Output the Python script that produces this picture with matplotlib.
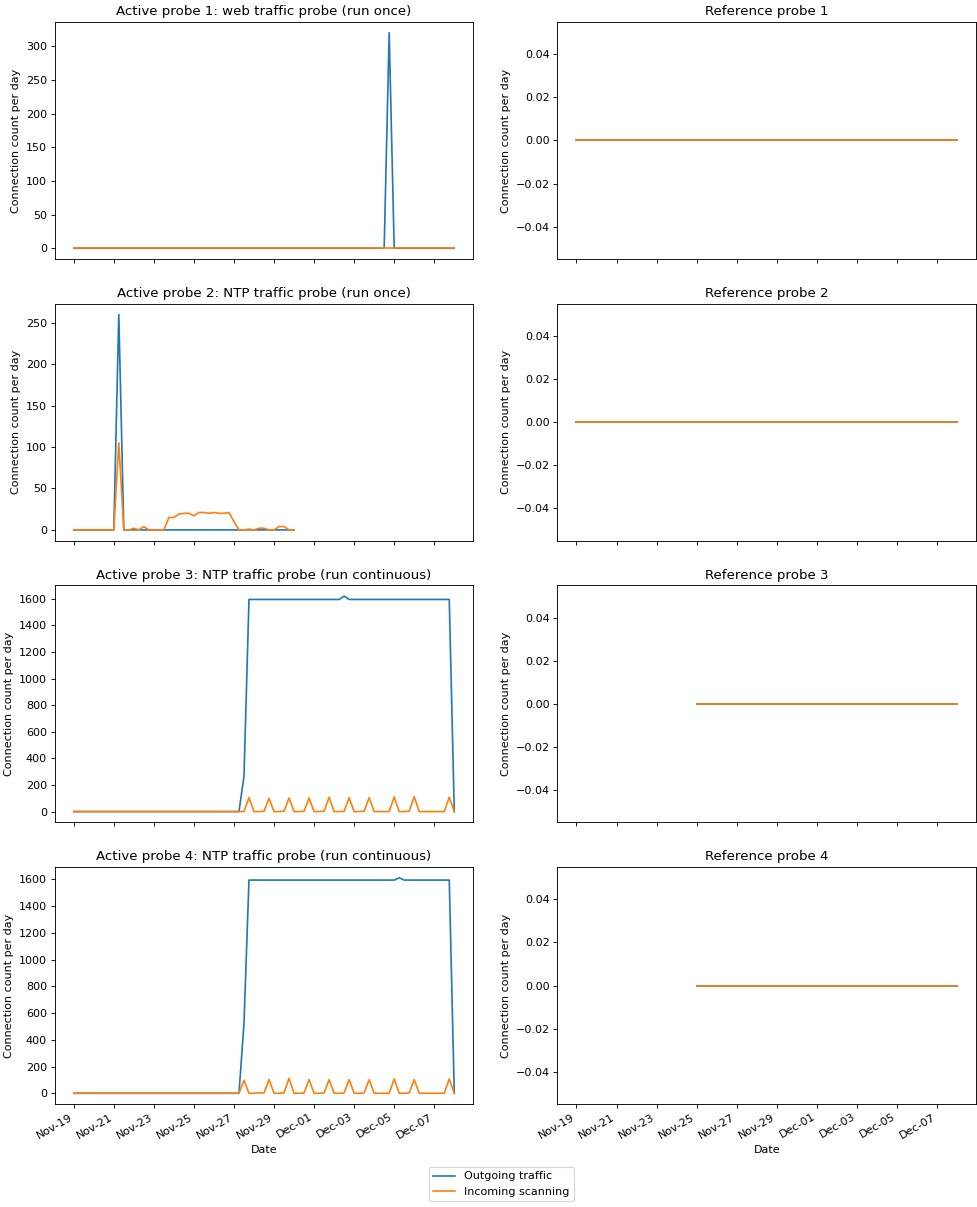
"""Connection counts per day for active probes vs. reference probes."""
from __future__ import annotations

import matplotlib

matplotlib.use("Agg")
import matplotlib.dates as mdates
import matplotlib.pyplot as plt
import pandas as pd

START = "2021-11-19 00:00"
FREQ = "6h"
DPI = 80

TITLES_ACTIVE = [
    "Active probe 1: web traffic probe (run once)",
    "Active probe 2: NTP traffic probe (run once)",
    "Active probe 3: NTP traffic probe (run continuous)",
    "Active probe 4: NTP traffic probe (run continuous)",
]
TITLES_REFERENCE = ["Reference probe 1", "Reference probe 2", "Reference probe 3", "Reference probe 4"]

# probe 1: Nov-19 .. Dec-08, 6-hourly
p1_out = [
    0, 0, 0, 0, 0, 0, 0, 0, 0, 0, 0, 0, 0, 0, 0, 0, 0, 0, 0, 0,
    0, 0, 0, 0, 0, 0, 0, 0, 0, 0, 0, 0, 0, 0, 0, 0, 0, 0, 0, 0,
    0, 0, 0, 0, 0, 0, 0, 0, 0, 0, 0, 0, 0, 0, 0, 0, 0, 0, 0, 0,
    0, 0, 0, 320, 0, 0, 0, 0, 0, 0, 0, 0, 0, 0, 0, 0, 0,
]
p1_in = [
    0, 0, 0, 0, 0, 0, 0, 0, 0, 0, 0, 0, 0, 0, 0, 0, 0, 0, 0, 0,
    0, 0, 0, 0, 0, 0, 0, 0, 0, 0, 0, 0, 0, 0, 0, 0, 0, 0, 0, 0,
    0, 0, 0, 0, 0, 0, 0, 0, 0, 0, 0, 0, 0, 0, 0, 0, 0, 0, 0, 0,
    0, 0, 0, 0, 0, 0, 0, 0, 0, 0, 0, 0, 0, 0, 0, 0, 0,
]

# probe 2: Nov-19 .. Nov-30
p2_out = [
    0, 0, 0, 0, 0, 0, 0, 0, 0, 260, 0, 0, 0, 0, 0, 0, 0, 0, 0, 0,
    0, 0, 0, 0, 0, 0, 0, 0, 0, 0, 0, 0, 0, 0, 0, 0, 0, 0, 0, 0,
    0, 0, 0, 0, 0,
]
p2_in = [
    0, 0, 0, 0, 0, 0, 0, 0, 0, 105, 0, 0, 2, 0, 4, 0, 0, 0, 0, 15,
    15, 19, 20, 20, 17, 21, 21, 20, 21, 20, 20, 21, 10, 0, 0, 1, 0, 2, 2, 0,
    0, 4, 4, 0, 0,
]

# probe 3: Nov-19 .. Dec-08
p3_out = [
    0, 0, 0, 0, 0, 0, 0, 0, 0, 0, 0, 0, 0, 0, 0, 0, 0, 0, 0, 0,
    0, 0, 0, 0, 0, 0, 0, 0, 0, 0, 0, 0, 0, 0, 265, 1595, 1595, 1595, 1595, 1595,
    1595, 1595, 1595, 1595, 1595, 1595, 1595, 1595, 1595, 1595, 1595, 1595, 1595, 1595, 1620, 1595, 1595, 1595, 1595, 1595,
    1595, 1595, 1595, 1595, 1595, 1595, 1595, 1595, 1595, 1595, 1595, 1595, 1595, 1595, 1595, 1595, 0,
]
p3_in = [
    0, 0, 0, 0, 0, 0, 0, 0, 0, 0, 0, 0, 0, 0, 0, 0, 0, 0, 0, 0,
    0, 0, 0, 0, 0, 0, 0, 0, 0, 0, 0, 0, 0, 0, 0, 105, 0, 0, 2, 100,
    0, 0, 3, 102, 0, 0, 2, 102, 0, 0, 3, 108, 0, 0, 2, 104, 0, 0, 3, 104,
    0, 0, 0, 0, 110, 0, 0, 3, 112, 0, 0, 0, 0, 0, 0, 108, 0,
]

# probe 4: Nov-19 .. Dec-08
p4_out = [
    0, 0, 0, 0, 0, 0, 0, 0, 0, 0, 0, 0, 0, 0, 0, 0, 0, 0, 0, 0,
    0, 0, 0, 0, 0, 0, 0, 0, 0, 0, 0, 0, 0, 0, 520, 1595, 1595, 1595, 1595, 1595,
    1595, 1595, 1595, 1595, 1595, 1595, 1595, 1595, 1595, 1595, 1595, 1595, 1595, 1595, 1595, 1595, 1595, 1595, 1595, 1595,
    1595, 1595, 1595, 1595, 1595, 1612, 1595, 1595, 1595, 1595, 1595, 1595, 1595, 1595, 1595, 1595, 0,
]
p4_in = [
    0, 0, 0, 0, 0, 0, 0, 0, 0, 0, 0, 0, 0, 0, 0, 0, 0, 0, 0, 0,
    0, 0, 0, 0, 0, 0, 0, 0, 0, 0, 0, 0, 0, 0, 98, 0, 0, 3, 2, 102,
    0, 0, 3, 112, 0, 0, 2, 102, 0, 0, 3, 102, 0, 0, 2, 102, 0, 0, 3, 102,
    0, 0, 0, 0, 107, 0, 0, 3, 102, 0, 0, 0, 0, 0, 0, 107, 0,
]

# reference probes: 1 and 2 run from Nov-19, 3 and 4 from Nov-25; all flat at zero
ref_start = ["2021-11-19 00:00", "2021-11-19 00:00", "2021-11-25 00:00", "2021-11-25 00:00"]
ref_end = "2021-12-08 00:00"


def series(values: list[float], start: str = START) -> pd.Series:
    idx = pd.date_range(start, periods=len(values), freq=FREQ)
    return pd.Series(values, index=idx)


def zeros_between(start: str, end: str) -> pd.Series:
    idx = pd.date_range(start, end, freq=FREQ)
    return pd.Series(0.0, index=idx)


def main() -> None:
    active = [(p1_out, p1_in), (p2_out, p2_in), (p3_out, p3_in), (p4_out, p4_in)]

    fig, axes = plt.subplots(4, 2, figsize=(977 / DPI, 1207 / DPI), dpi=DPI, sharex=True)

    for row, (out_vals, in_vals) in enumerate(active):
        ax = axes[row, 0]
        ax.plot(series(out_vals), label="Outgoing traffic")
        ax.plot(series(in_vals), label="Incoming scanning")
        ax.set_title(TITLES_ACTIVE[row])
        ax.set_ylabel("Connection count per day")

        ref = zeros_between(ref_start[row], ref_end)
        ax = axes[row, 1]
        ax.plot(ref, label="Outgoing traffic")
        ax.plot(ref, label="Incoming scanning")
        ax.set_title(TITLES_REFERENCE[row])
        ax.set_ylabel("Connection count per day")

    for ax in axes[-1]:
        ax.xaxis.set_major_locator(mdates.DayLocator(bymonthday=range(1, 32, 2)))
        ax.xaxis.set_major_formatter(mdates.DateFormatter("%b-%d"))
        ax.set_xlabel("Date")
    fig.autofmt_xdate()
    # autofmt_xdate moves the bottom edge, so set the grid afterwards
    fig.subplots_adjust(left=0.056, right=0.999, top=0.9818, bottom=0.0853, wspace=0.201, hspace=0.1885)

    handles, labels = axes[0, 0].get_legend_handles_labels()
    fig.legend(handles, labels, loc="lower center", bbox_to_anchor=(0.513, 0.0))

    plt.savefig("out.png", dpi=DPI)
    plt.close(fig)


if __name__ == "__main__":
    main()
